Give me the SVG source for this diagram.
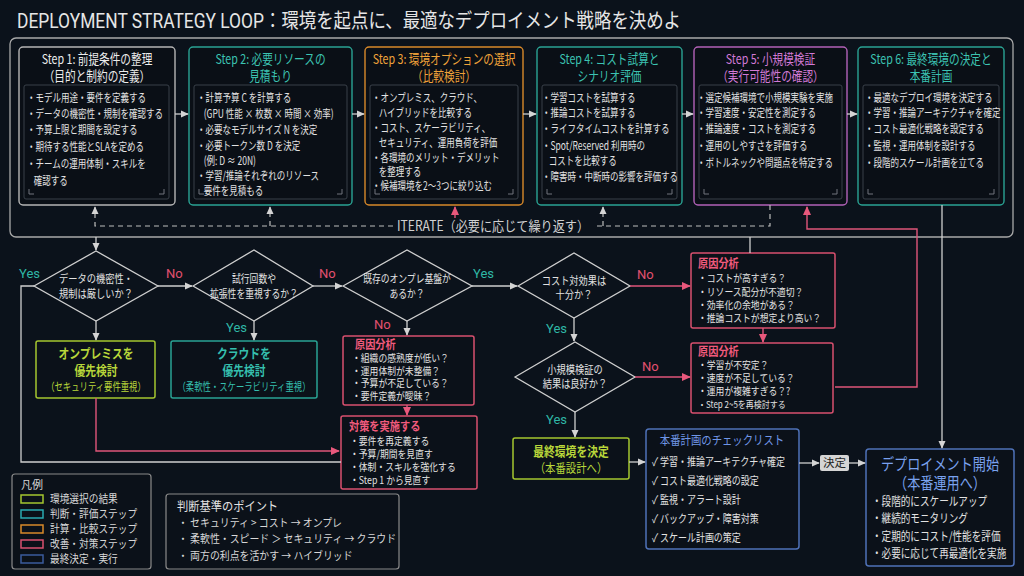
<svg xmlns="http://www.w3.org/2000/svg" width="1024" height="576" viewBox="0 0 1024 576">
<defs>
<marker id="ag" viewBox="0 0 10 10" refX="9" refY="5" markerWidth="8" markerHeight="8" markerUnits="userSpaceOnUse" orient="auto"><path d="M0,0.5 L10,5 L0,9.5 z" fill="#d4d4d4"/></marker>
<marker id="ap" viewBox="0 0 10 10" refX="9" refY="5" markerWidth="9" markerHeight="9" markerUnits="userSpaceOnUse" orient="auto"><path d="M0,0.5 L10,5 L0,9.5 z" fill="#e8587c"/></marker>
</defs>
<style>
text{font-family:"Noto Sans CJK JP","Noto Sans",sans-serif}
.box{fill:#0a0f16;stroke-width:1.4}
.inner{fill:none;stroke:#394049;stroke-width:1}
.cm{fill:none;stroke:#70757c;stroke-width:1}
.b{font-size:11.5px;fill:#e2e2e2}
.st{font-size:13.5px;text-anchor:middle;font-weight:400}
.gl{fill:none;stroke:#cfcfcf;stroke-width:1.3}
.pl{fill:none;stroke:#e0557a;stroke-width:1.4}
.dl{fill:none;stroke:#bdbdbd;stroke-width:1.2;stroke-dasharray:5 4}
.dia{fill:#0b121b;stroke:#cfcfcf;stroke-width:1.3}
.dt{font-size:11px;fill:#e2e2e2;text-anchor:middle}
.yes{font-family:"Roboto","Noto Sans",sans-serif;font-size:13px;fill:#2fb7a6}
.no{font-family:"Roboto","Noto Sans",sans-serif;font-size:13px;fill:#e2506f}
.pk{fill:#0b1119;stroke:#d9506f;stroke-width:1.5}
.pt{font-size:12px;font-weight:700;fill:#f05a7c}
.pb{font-size:10.5px;fill:#e2e2e2}
.gr{fill:#0b1119;stroke:#a5c62f;stroke-width:1.5}
.tl{fill:#0b1119;stroke:#2aa394;stroke-width:1.5}
.bl{fill:#0b1119;stroke:#4f72b8;stroke-width:1.5}
.mid{text-anchor:middle}
</style>
<rect width="1024" height="576" fill="#0b121b"/>

<text x="17" y="28" font-size="20" fill="#e6e6e6" textLength="664" lengthAdjust="spacingAndGlyphs" style="font-family:Roboto,'Noto Sans CJK JP',sans-serif">DEPLOYMENT STRATEGY LOOP：環境を起点に、最適なデプロイメント戦略を決めよ</text>

<g id="frame"><rect x="10" y="38" width="1003" height="199" rx="6" fill="none" stroke="#a9a9a9" stroke-width="1.3"/></g>

<g id="step1">
<rect class="box" x="19" y="47" width="156" height="158" rx="4" stroke="#b5b5b5"/>
<rect class="inner" x="24" y="85" width="145" height="114" rx="2"/>
<path class="cm" d="M29 189v5h5M164 189v5h-5"/>
<g transform="matrix(0.79 0 0 1 20.37 0)" class="st" fill="#ececec"><text x="97" y="64">Step 1: 前提条件の整理</text><text x="97" y="81">（目的と制約の定義）</text></g>
<g transform="matrix(0.74 0 0 1 7.02 0)" class="b">
<text x="27" y="102">・モデル用途・要件を定義する</text>
<text x="27" y="118">・データの機密性・規制を確認する</text>
<text x="27" y="134">・予算上限と期間を設定する</text>
<text x="27" y="151">・期待する性能とSLAを定める</text>
<text x="27" y="168">・チームの運用体制・スキルを</text>
<text x="36" y="185">確認する</text>
</g>
</g>

<g id="step2">
<rect class="box" x="189" y="47" width="163" height="158" rx="4" stroke="#2aa394"/>
<rect class="inner" x="194" y="85" width="153" height="114" rx="2"/>
<path class="cm" d="M199 189v5h5M342 189v5h-5"/>
<g transform="matrix(0.79 0 0 1 56.8 0)" class="st" fill="#3cc3b2"><text x="270.5" y="64">Step 2: 必要リソースの</text><text x="270.5" y="81">見積もり</text></g>
<g transform="matrix(0.74 0 0 1 51.22 0)" class="b">
<text x="197" y="102">・計算予算 C を計算する</text>
<text x="206" y="118">(GPU 性能 × 枚数 × 時間 × 効率)</text>
<text x="197" y="134">・必要なモデルサイズ N を決定</text>
<text x="197" y="150">・必要トークン数 D を決定</text>
<text x="206" y="165">(例: D ≈ 20N)</text>
<text x="197" y="180">・学習/推論それぞれのリソース</text>
<text x="206" y="195">要件を見積もる</text>
</g>
</g>

<g id="step3">
<rect class="box" x="365" y="47" width="158" height="158" rx="4" stroke="#d8892a"/>
<rect class="inner" x="370" y="85" width="148" height="114" rx="2"/>
<path class="cm" d="M375 189v5h5M513 189v5h-5"/>
<g transform="matrix(0.79 0 0 1 93.24 0)" class="st" fill="#f0a33a"><text x="444" y="64">Step 3: 環境オプションの選択</text><text x="444" y="81">（比較検討）</text></g>
<g transform="matrix(0.74 0 0 1 96.72 0)" class="b">
<text x="372" y="102">・オンプレミス、クラウド、</text>
<text x="381" y="117">ハイブリッドを比較する</text>
<text x="372" y="132">・コスト、スケーラビリティ、</text>
<text x="381" y="147">セキュリティ、運用負荷を評価</text>
<text x="372" y="162">・各環境のメリット・デメリット</text>
<text x="381" y="176">を整理する</text>
<text x="372" y="190">・候補環境を2～3つに絞り込む</text>
</g>
</g>

<g id="step4">
<rect class="box" x="537" y="47" width="145" height="158" rx="4" stroke="#2aa394"/>
<rect class="inner" x="542" y="85" width="135" height="114" rx="2"/>
<path class="cm" d="M547 189v5h5M672 189v5h-5"/>
<g transform="matrix(0.79 0 0 1 127.99 0)" class="st" fill="#3cc3b2"><text x="609.5" y="64">Step 4: コスト試算と</text><text x="609.5" y="81">シナリオ評価</text></g>
<g transform="matrix(0.74 0 0 1 140.92 0)" class="b">
<text x="542" y="102">・学習コストを試算する</text>
<text x="542" y="117">・推論コストを試算する</text>
<text x="542" y="133">・ライフタイムコストを計算する</text>
<text x="542" y="150">・Spot/Reserved 利用時の</text>
<text x="551" y="165">コストを比較する</text>
<text x="542" y="181">・障害時・中断時の影響を評価する</text>
</g>
</g>

<g id="step5">
<rect class="box" x="694" y="47" width="153" height="158" rx="4" stroke="#b262b8"/>
<rect class="inner" x="699" y="85" width="143" height="114" rx="2"/>
<path class="cm" d="M704 189v5h5M837 189v5h-5"/>
<g transform="matrix(0.79 0 0 1 161.81 0)" class="st" fill="#d27ad6"><text x="770.5" y="64">Step 5: 小規模検証</text><text x="770.5" y="81">（実行可能性の確認）</text></g>
<g transform="matrix(0.74 0 0 1 181.22 0)" class="b">
<text x="697" y="102">・選定候補環境で小規模実験を実施</text>
<text x="697" y="117">・学習速度・安定性を測定する</text>
<text x="697" y="133">・推論速度・コストを測定する</text>
<text x="697" y="150">・運用のしやすさを評価する</text>
<text x="697" y="167">・ボトルネックや問題点を特定する</text>
</g>
</g>

<g id="step6">
<rect class="box" x="858" y="47" width="146" height="158" rx="4" stroke="#2aa394"/>
<rect class="inner" x="863" y="85" width="136" height="114" rx="2"/>
<path class="cm" d="M868 189v5h5M994 189v5h-5"/>
<g transform="matrix(0.79 0 0 1 195.51 0)" class="st" fill="#3cc3b2"><text x="931" y="64">Step 6: 最終環境の決定と</text><text x="931" y="81">本番計画</text></g>
<g transform="matrix(0.74 0 0 1 224.9 0)" class="b">
<text x="865" y="102">・最適なデプロイ環境を決定する</text>
<text x="865" y="117">・学習・推論アーキテクチャを確定</text>
<text x="865" y="133">・コスト最適化戦略を設定する</text>
<text x="865" y="150">・監視・運用体制を設計する</text>
<text x="865" y="167">・段階的スケール計画を立てる</text>
</g>
</g>

<g id="iterate-label"><text x="397" y="231" font-size="14" fill="#d0d0d0" textLength="192" lengthAdjust="spacingAndGlyphs">ITERATE（必要に応じて繰り返す）</text></g>

<g id="d1"><polygon class="dia" points="34,286 96,251 158,286 96,321"/>
<g transform="matrix(0.84 0 0 1 15.36 0)" class="dt"><text x="96" y="283">データの機密性・</text><text x="96" y="298">規制は厳しいか？</text></g></g>
<g id="d2"><polygon class="dia" points="193,286 254,250 313,286 254,321"/>
<g transform="matrix(0.8 0 0 1 50.8 0)" class="dt"><text x="254" y="283">試行回数や</text><text x="254" y="298">拡張性を重視するか？</text></g></g>
<g id="d3"><polygon class="dia" points="343,286 407,250 472,286 407,321"/>
<g transform="matrix(0.8 0 0 1 81.4 0)" class="dt"><text x="407" y="283">既存のオンプレ基盤が</text><text x="407" y="298">あるか？</text></g></g>
<g id="d4"><polygon class="dia" points="518,286 574,253 630,286 574,318"/>
<g transform="matrix(0.84 0 0 1 91.84 0)" class="dt"><text x="574" y="285">コスト対効果は</text><text x="574" y="299">十分か？</text></g></g>
<g id="d5"><polygon class="dia" points="515,377 575,342 635,377 575,412"/>
<g transform="matrix(0.84 0 0 1 92 0)" class="dt"><text x="575" y="374">小規模検証の</text><text x="575" y="388">結果は良好か？</text></g></g>

<g id="onprem"><rect class="gr" x="36" y="341" width="119" height="57" rx="2"/>
<g transform="matrix(0.83 0 0 1 16.32 0)" class="mid" font-size="13" font-weight="700" fill="#b8d63a"><text x="96" y="358">オンプレミスを</text><text x="96" y="375">優先検討</text></g>
<g transform="matrix(0.76 0 0 1 23.04 0)" class="mid" font-size="11" fill="#b8d63a"><text x="96" y="391">（セキュリティ要件重視）</text></g></g>

<g id="cloud"><rect class="tl" x="171" y="341" width="146" height="57" rx="2"/>
<g transform="matrix(0.83 0 0 1 41.48 0)" class="mid" font-size="13" font-weight="700" fill="#35bfae"><text x="244" y="358">クラウドを</text><text x="244" y="375">優先検討</text></g>
<g transform="matrix(0.76 0 0 1 58.56 0)" class="mid" font-size="11" fill="#35bfae"><text x="244" y="391">（柔軟性・スケーラビリティ重視）</text></g></g>

<g id="causeA"><rect class="pk" x="343" y="336" width="131" height="69" rx="2"/>
<g transform="matrix(0.85 0 0 1 53.25 0)" class="pt"><text x="355" y="349">原因分析</text></g>
<g transform="matrix(0.84 0 0 1 56.32 0)" class="pb">
<text x="352" y="362">・組織の感熟度が低い？</text>
<text x="352" y="375">・運用体制が未整備？</text>
<text x="352" y="387">・予算が不足している？</text>
<text x="352" y="400">・要件定義が曖昧？</text></g></g>

<g id="action"><rect class="pk" x="341" y="416" width="136" height="73" rx="2"/>
<g transform="matrix(0.85 0 0 1 52.35 0)" class="pt" font-size="13"><text x="349" y="431">対策を実施する</text></g>
<g transform="matrix(0.84 0 0 1 56 0)" class="pb">
<text x="350" y="445">・要件を再定義する</text>
<text x="350" y="458">・予算/期間を見直す</text>
<text x="350" y="471">・体制・スキルを強化する</text>
<text x="350" y="484">・Step 1 から見直す</text></g></g>

<g id="causeB"><rect class="pk" x="691" y="253" width="144" height="75" rx="2"/>
<g transform="matrix(0.85 0 0 1 104.7 0)" class="pt"><text x="698" y="268">原因分析</text></g>
<g transform="matrix(0.84 0 0 1 111.68 0)" class="pb">
<text x="698" y="282">・コストが高すぎる？</text>
<text x="698" y="296">・リソース配分が不適切？</text>
<text x="698" y="309">・効率化の余地がある？</text>
<text x="698" y="322">・推論コストが想定より高い？</text></g></g>

<g id="causeC"><rect class="pk" x="691" y="343" width="142" height="70" rx="2"/>
<g transform="matrix(0.85 0 0 1 104.7 0)" class="pt"><text x="698" y="356">原因分析</text></g>
<g transform="matrix(0.84 0 0 1 111.68 0)" class="pb">
<text x="698" y="369">・学習が不安定？</text>
<text x="698" y="382">・速度が不足している？</text>
<text x="698" y="395">・運用が複雑すぎる？?</text>
<text x="698" y="408" font-size="9.5">・Step 2~5を再検討する</text></g></g>

<g id="final"><rect class="gr" x="513" y="438" width="116" height="41" rx="2"/>
<g transform="matrix(0.83 0 0 1 97.07 0)" class="mid" font-weight="700" fill="#b8d63a"><text x="571" y="456" font-size="13">最終環境を決定</text><text x="571" y="473" font-size="12.5" font-weight="400">（本番設計へ）</text></g></g>

<g id="checklist"><rect class="bl" x="646" y="429" width="153" height="120" rx="3"/>
<g transform="matrix(0.83 0 0 1 122.74 0)" class="mid" font-size="12.5" fill="#6f96e6"><text x="722" y="445">本番計画のチェックリスト</text></g>
<g transform="matrix(0.78 0 0 1 143.44 0)" font-size="11.5" fill="#e2e2e2">
<text x="652" y="466">✓ 学習・推論アーキテクチャ確定</text>
<text x="652" y="485">✓ コスト最適化戦略の設定</text>
<text x="652" y="504">✓ 監視・アラート設計</text>
<text x="652" y="523">✓ バックアップ・障害対策</text>
<text x="652" y="542">✓ スケール計画の策定</text></g></g>

<g id="decide"><rect x="820" y="455" width="29" height="16" rx="2" fill="#d5d5d5"/><text x="834.5" y="467" font-size="11.5" fill="#222" text-anchor="middle">決定</text></g>

<g id="deploy"><rect class="bl" x="866" y="449" width="148" height="117" rx="3"/>
<g transform="matrix(0.82 0 0 1 169.2 0)" class="mid" font-size="16" fill="#7aa2ee"><text x="940" y="470">デプロイメント開始</text><text x="940" y="489">（本番運用へ）</text></g>
<g transform="matrix(0.8 0 0 1 174.4 0)" font-size="12" fill="#e2e2e2">
<text x="872" y="506">・段階的にスケールアップ</text>
<text x="872" y="523">・継続的モニタリング</text>
<text x="872" y="541">・定期的にコスト/性能を評価</text>
<text x="872" y="558">・必要に応じて再最適化を実施</text></g></g>

<g id="legend"><rect x="12" y="474" width="139" height="95" rx="3" fill="#0b1119" stroke="#8a8a8a" stroke-width="1.2"/>
<text x="21" y="489" font-size="11" fill="#d8d8d8">凡例</text>
<rect x="21" y="495" width="22" height="8" fill="none" stroke="#a5c62f" stroke-width="1.5"/>
<rect x="21" y="510" width="22" height="8" fill="none" stroke="#2aa9b0" stroke-width="1.5"/>
<rect x="21" y="525" width="22" height="8" fill="none" stroke="#d8892a" stroke-width="1.5"/>
<rect x="21" y="540" width="22" height="8" fill="none" stroke="#d9506f" stroke-width="1.5"/>
<rect x="21" y="555" width="22" height="8" fill="none" stroke="#3b5b9c" stroke-width="1.5"/>
<g transform="matrix(0.88 0 0 1 6 0)" font-size="11" fill="#d8d8d8">
<text x="50" y="503">環境選択の結果</text>
<text x="50" y="518">判断・評価ステップ</text>
<text x="50" y="533">計算・比較ステップ</text>
<text x="50" y="548">改善・対策ステップ</text>
<text x="50" y="563">最終決定・実行</text></g></g>

<g id="criteria"><rect x="166" y="494" width="233" height="75" rx="3" fill="#0b1119" stroke="#8a8a8a" stroke-width="1.2"/>
<g transform="matrix(0.9 0 0 1 17.7 0)" font-size="12.5" fill="#e2e2e2"><text x="177" y="511">判断基準のポイント</text></g>
<g transform="matrix(0.9 0 0 1 17.8 0)" font-size="11" fill="#d8d8d8">
<text x="178" y="527">・ セキュリティ &gt; コスト → オンプレ</text>
<text x="178" y="543">・ 柔軟性・スピード ＞ セキュリティ → クラウド</text>
<text x="178" y="560">・ 両方の利点を活かす → ハイブリッド</text></g></g>

<g id="labels">
<text class="yes" x="19" y="278">Yes</text>
<text class="no" x="166" y="278">No</text>
<text class="yes" x="226" y="332">Yes</text>
<text class="no" x="319" y="278">No</text>
<text class="yes" x="473" y="278">Yes</text>
<text class="no" x="374" y="329">No</text>
<text class="no" x="637" y="279">No</text>
<text class="yes" x="546" y="333">Yes</text>
<text class="no" x="642" y="371">No</text>
<text class="yes" x="546" y="424">Yes</text>
</g>

<g id="connectors">
<path class="gl" d="M175 114H188" marker-end="url(#ag)"/>
<path class="gl" d="M352 114H364" marker-end="url(#ag)"/>
<path class="gl" d="M523 114H536" marker-end="url(#ag)"/>
<path class="gl" d="M682 114H693" marker-end="url(#ag)"/>
<path class="gl" d="M847 114H857" marker-end="url(#ag)"/>
<path class="dl" d="M770 205V226H594"/>
<path class="dl" d="M393 226H95V207" marker-end="url(#ag)"/>
<path class="dl" d="M270 226V207" marker-end="url(#ag)"/>
<path class="dl" d="M603 226V207" marker-end="url(#ag)"/>
<path class="pl" d="M455 218V207" marker-end="url(#ap)"/>
<path class="pl" d="M835 387H917V229H807V207" marker-end="url(#ap)"/>
<path class="gl" d="M942 205V448" marker-end="url(#ag)"/>
<path class="gl" d="M96 237V250" marker-end="url(#ag)"/>
<path class="gl" d="M750 237V253"/>
<path class="gl" d="M158 286H192" marker-end="url(#ag)"/>
<path class="gl" d="M313 286H342" marker-end="url(#ag)"/>
<path class="gl" d="M472 286H517" marker-end="url(#ag)"/>
<path class="gl" d="M96 321V340" marker-end="url(#ag)"/>
<path class="gl" d="M254 321V340" marker-end="url(#ag)"/>
<path class="gl" d="M407 321V335" marker-end="url(#ag)"/>
<path class="pl" d="M407 405V415" marker-end="url(#ap)"/>
<path class="gl" d="M34 286H21V462H341"/>
<path class="pl" d="M96 398V451H339" marker-end="url(#ap)"/>
<path class="pl" d="M630 286H690" marker-end="url(#ap)"/>
<path class="gl" d="M574 318V341" marker-end="url(#ag)"/>
<path class="pl" d="M763 328V342" marker-end="url(#ap)"/>
<path class="pl" d="M635 377H690" marker-end="url(#ap)"/>
<path class="gl" d="M575 412V437" marker-end="url(#ag)"/>
<path class="gl" d="M629 462H645" marker-end="url(#ag)"/>
<path class="gl" d="M799 463H819" marker-end="url(#ag)"/>
<path class="gl" d="M849 463H865" marker-end="url(#ag)"/>
</g>
</svg>
